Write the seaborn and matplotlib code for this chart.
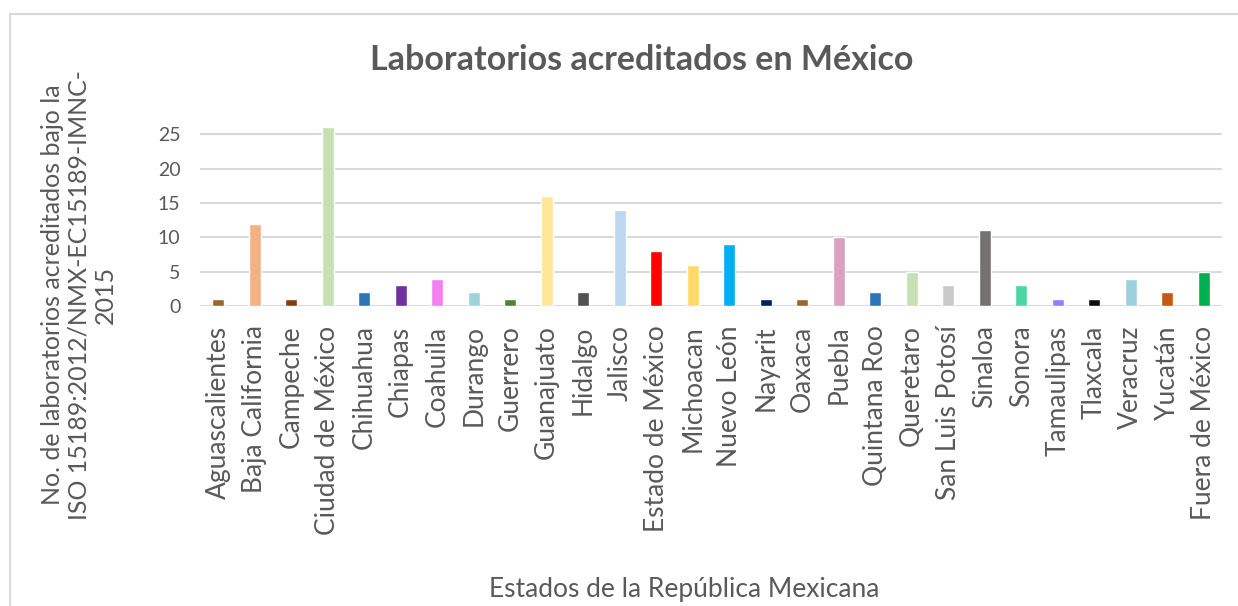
import matplotlib
matplotlib.use("Agg")
import matplotlib.pyplot as plt
import seaborn as sns
import pandas as pd
from matplotlib.lines import Line2D

estados = ["Aguascalientes", "Baja California", "Campeche", "Ciudad de México", "Chihuahua",
           "Chiapas", "Coahuila", "Durango", "Guerrero", "Guanajuato", "Hidalgo", "Jalisco",
           "Estado de México", "Michoacan", "Nuevo León", "Nayarit", "Oaxaca", "Puebla",
           "Quintana Roo", "Queretaro", "San Luis Potosí", "Sinaloa", "Sonora", "Tamaulipas",
           "Tlaxcala", "Veracruz", "Yucatán", "Fuera de México"]
laboratorios = [1, 12, 1, 26, 2, 3, 4, 2, 1, 16, 2, 14, 8, 6, 9, 1, 1, 10, 2, 5, 3, 11, 3, 1, 1, 4, 2, 5]
colores = ["#9C6631", "#F4B183", "#843C0C", "#C5E0B4", "#2E75B6", "#7030A0", "#F47FF0",
           "#9DD4DC", "#548235", "#FFE699", "#525252", "#BDD7EE", "#FF0000", "#FFD966",
           "#00B0F0", "#002060", "#9C6631", "#D9A0C0", "#2E75B6", "#C5E0B4", "#C9C9C9",
           "#767171", "#4CD6A4", "#9B7CF4", "#0D0D0D", "#9BD1DE", "#C65911", "#00B050"]
yticks = [0, 5, 10, 15, 20, 25]

sns.set_theme(style="white")
plt.rcParams["font.family"] = ["Lato", "DejaVu Sans"]
txt = "#595959"

df = pd.DataFrame({"Estado": estados, "Labs": laboratorios})

W, H = 1238, 606
fig = plt.figure(figsize=(W / 100, H / 100), dpi=100)
ax = fig.add_axes([200 / W, 1 - 306 / H, (1222 - 200) / W, (306 - 100) / H])

sns.barplot(data=df, x="Estado", y="Labs", hue="Estado", palette=colores,
            width=0.33, legend=False, ax=ax, saturation=1)

ax.set_ylim(0, 30)
ax.set_yticks(yticks)
ax.set_xlim(-0.5, len(estados) - 0.5)
for y in yticks:
    ax.axhline(y, color="#D9D9D9", lw=1.5, zorder=0)
for s in ax.spines.values():
    s.set_visible(False)
ax.tick_params(axis="both", length=0, colors=txt)
ax.tick_params(axis="y", labelsize=14, pad=14)
ax.tick_params(axis="x", labelsize=19, rotation=90, pad=14)
ax.set_xlabel("")
ax.set_ylabel("")

fig.text(642 / W, 1 - 60 / H, "Laboratorios acreditados en México", ha="center", va="center",
         fontsize=24.5, fontweight="bold", color=txt)
fig.text(684 / W, 1 - 589 / H, "Estados de la República Mexicana", ha="center", va="center",
         fontsize=19, color=txt)
fig.text(79 / W, 1 - 295 / H,
         "No. de laboratorios acreditados bajo la\nISO 15189:2012/NMX-EC15189-IMNC-\n2015",
         ha="center", va="center", rotation=90, fontsize=18, color=txt, linespacing=1.2,
         multialignment="center")

# chart border
fig.add_artist(Line2D([10 / W, 10 / W], [0, 1 - 14 / H], transform=fig.transFigure,
                      color="#D9D9D9", lw=1.5))
fig.add_artist(Line2D([10 / W, 1], [1 - 14 / H, 1 - 14 / H], transform=fig.transFigure,
                      color="#D9D9D9", lw=1.5))

fig.savefig("out.png", dpi=100, facecolor="white")
